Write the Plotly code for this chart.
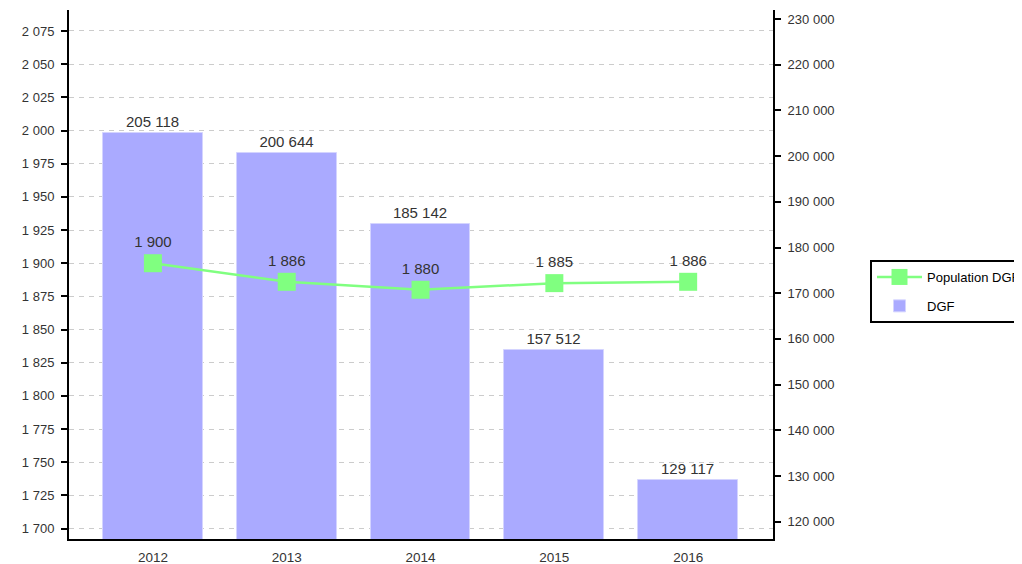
import plotly.graph_objects as go

years = ["2012", "2013", "2014", "2015", "2016"]
dgf = [205118, 200644, 185142, 157512, 129117]
population = [1900, 1886, 1880, 1885, 1886]


def fmt(v):
    return f"{v:,}".replace(",", " ")


FONT = "Liberation Sans, Arial, sans-serif"
TXT = "#333333"
FS = 13
LABEL_FS = 15

fig = go.Figure()

fig.add_trace(go.Bar(
    x=years, y=dgf, name="DGF", yaxis="y",
    marker=dict(color="#aaaaff", line=dict(color="#d4d4ff", width=1)),
    width=0.746,
    text=[fmt(v) for v in dgf], textposition="outside",
    textfont=dict(family=FONT, size=LABEL_FS, color=TXT),
    cliponaxis=False, legendrank=2, legendgroup="b",
))

fig.add_trace(go.Scatter(
    x=years, y=population, name="Population DGF", yaxis="y2",
    mode="lines+markers+text",
    line=dict(color="#80ff80", width=2.5),
    marker=dict(symbol="square", size=18, color="#80ff80"),
    text=[fmt(v) for v in population], textposition="top center",
    textfont=dict(family=FONT, size=LABEL_FS, color=TXT),
    cliponaxis=False, legendrank=1, legendgroup="a",
))

fig.update_layout(
    width=1014, height=556,
    margin=dict(l=61, r=249, t=2, b=25, autoexpand=False),
    paper_bgcolor="white", plot_bgcolor="white",
    font=dict(family=FONT, size=FS, color=TXT),
    bargap=0,
    xaxis=dict(
        type="category", range=[-0.627, 4.634],
        showline=True, linecolor="black", linewidth=2,
        ticks="", showgrid=False, zeroline=False,
        tickfont=dict(size=13.5, color=TXT), ticklabelstandoff=5,
    ),
    yaxis=dict(
        side="right", range=[116214, 231969],
        tick0=0, dtick=10000, tickformat=",d",
        showline=True, linecolor="black", linewidth=2,
        ticks="outside", ticklen=6, tickwidth=2, tickcolor="black",
        showgrid=False, zeroline=False,
        tickfont=dict(size=FS, color=TXT), ticklabelstandoff=4,
    ),
    yaxis2=dict(
        side="left", overlaying="y", range=[1692.2, 2090.8],
        tick0=0, dtick=25, tickformat=",d",
        showline=True, linecolor="black", linewidth=2,
        ticks="outside", ticklen=6, tickwidth=2, tickcolor="black",
        showgrid=True, gridcolor="#cccccc", gridwidth=1, griddash="5px,5px",
        zeroline=False,
        tickfont=dict(size=FS, color=TXT), ticklabelstandoff=4,
    ),
    separators=". ",
    showlegend=True,
    legend=dict(
        x=(870 - 69) / 704, y=(539 - 260) / 529,
        xanchor="left", yanchor="top",
        bordercolor="black", borderwidth=2, bgcolor="white",
        font=dict(family=FONT, size=FS, color="black"),
        traceorder="grouped", tracegroupgap=9, itemwidth=45,
    ),
)

fig.write_html("out.html")
